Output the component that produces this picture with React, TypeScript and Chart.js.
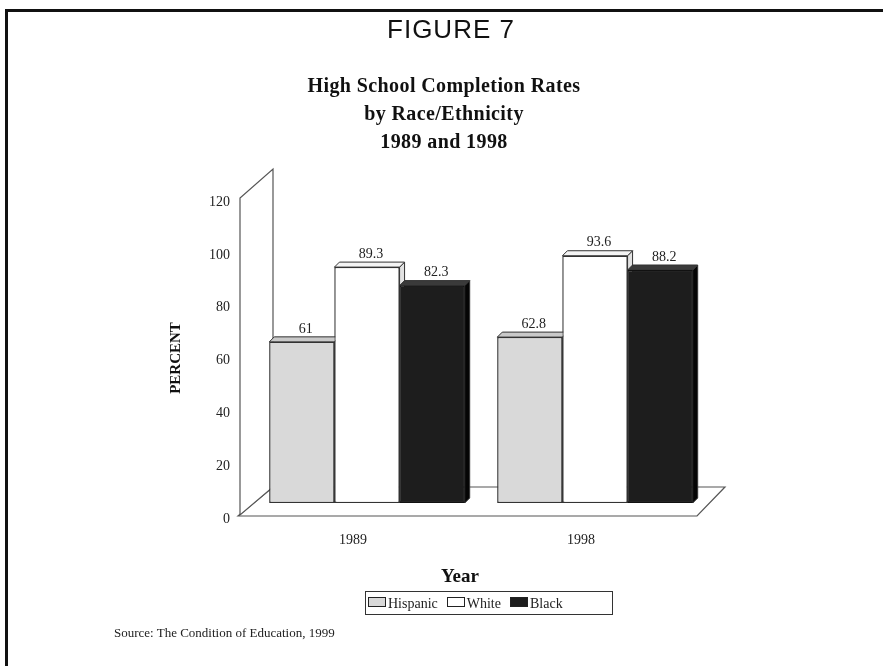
import React, { useEffect, useRef } from 'react';
import { Chart, registerables } from 'chart.js';

Chart.register(...registerables);

const years = ['1989', '1998'];
const seriesNames = ['Hispanic', 'White', 'Black'];
const hispanic = [61, 62.8];
const white = [89.3, 93.6];
const black = [82.3, 88.2];
const yMin = 0;
const yMax = 120;
const yStep = 20;

const titleLines = ['High School Completion Rates', 'by Race/Ethnicity', '1989 and 1998'];
const figureLabel = 'FIGURE 7';
const yTitle = 'PERCENT';
const xTitle = 'Year';
const sourceText = 'Source: The Condition of Education, 1999';

const fills = ['#d9d9d9', '#ffffff', '#1d1d1d'];
const borders = ['#333333', '#333333', '#111111'];
const sides = ['#a9a9a9', '#e2e2e2', '#050505'];
const caps = ['#c9c9c9', '#f4f4f4', '#3a3a3a'];

const SERIF = '"Liberation Serif", "Times New Roman", serif';

const threeD = {
  id: 'threeD',
  beforeDatasetsDraw(chart: any) {
    const { ctx, chartArea, scales } = chart;
    const { left, right } = chartArea;
    const y = scales.y;
    const base = y.getPixelForValue(0);
    const top = y.getPixelForValue(yMax);
    ctx.save();
    ctx.lineWidth = 1.2;
    ctx.strokeStyle = '#555';
    ctx.fillStyle = '#fff';
    // floor
    ctx.beginPath();
    ctx.moveTo(left - 15, base + 13);
    ctx.lineTo(right - 12, base + 13);
    ctx.lineTo(right + 16, base - 16);
    ctx.lineTo(left + 20, base - 16);
    ctx.closePath();
    ctx.fill();
    ctx.stroke();
    // side wall
    ctx.beginPath();
    ctx.moveTo(left - 13, base + 12);
    ctx.lineTo(left - 13, top + 12);
    ctx.lineTo(left + 20, top - 17);
    ctx.lineTo(left + 20, base - 16);
    ctx.closePath();
    ctx.fill();
    ctx.stroke();
    ctx.restore();
  },
  afterDatasetsDraw(chart: any) {
    const { ctx } = chart;
    const d = 5;
    const n = chart.data.labels.length;
    for (let j = 0; j < n; j++) {
      for (let i = 0; i < chart.data.datasets.length; i++) {
        const el = chart.getDatasetMeta(i).data[j];
        if (!el) continue;
        const p = el.getProps(['x', 'y', 'base', 'width'], true);
        const x0 = p.x - p.width / 2;
        const x1 = p.x + p.width / 2;
        const t = p.y;
        const b = p.base;
        ctx.save();
        ctx.lineWidth = 1;
        ctx.strokeStyle = '#333';
        // side
        ctx.beginPath();
        ctx.moveTo(x1, t);
        ctx.lineTo(x1 + d, t - d);
        ctx.lineTo(x1 + d, b - d);
        ctx.lineTo(x1, b);
        ctx.closePath();
        ctx.fillStyle = sides[i];
        ctx.fill();
        ctx.stroke();
        // cap
        ctx.beginPath();
        ctx.moveTo(x0, t);
        ctx.lineTo(x0 + d, t - d);
        ctx.lineTo(x1 + d, t - d);
        ctx.lineTo(x1, t);
        ctx.closePath();
        ctx.fillStyle = caps[i];
        ctx.fill();
        ctx.stroke();
        ctx.restore();
        el.draw(ctx);
      }
    }
    // value labels
    ctx.save();
    ctx.font = '14px ' + SERIF;
    ctx.fillStyle = '#222';
    ctx.textAlign = 'center';
    ctx.textBaseline = 'middle';
    chart.data.datasets.forEach((ds: any, i: number) => {
      chart.getDatasetMeta(i).data.forEach((el: any, j: number) => {
        const p = el.getProps(['x', 'y'], true);
        ctx.fillText(String(ds.data[j]), p.x + 4, p.y - 13);
      });
    });
    ctx.restore();
  },
  afterDraw(chart: any) {
    const { ctx } = chart;
    ctx.save();
    ctx.translate(176, 358);
    ctx.rotate(-Math.PI / 2);
    ctx.font = 'bold 15px ' + SERIF;
    ctx.fillStyle = '#111';
    ctx.textAlign = 'center';
    ctx.textBaseline = 'middle';
    ctx.fillText(yTitle, 0, 0);
    ctx.restore();
  },
};

export default function App() {
  const ref = useRef<HTMLCanvasElement | null>(null);

  useEffect(() => {
    if (!ref.current) return;
    const data = [hispanic, white, black];
    const chart = new Chart(ref.current, {
      type: 'bar',
      data: {
        labels: years,
        datasets: seriesNames.map((name, i) => ({
          label: name,
          data: data[i],
          backgroundColor: fills[i],
          borderColor: borders[i],
          borderWidth: 1.2,
          borderSkipped: false,
          categoryPercentage: 0.857,
          barPercentage: 1,
        })),
      },
      options: {
        responsive: false,
        animation: false,
        devicePixelRatio: 1,
        layout: { padding: { left: 160, right: 174, top: 186, bottom: 113 } },
        plugins: {
          legend: { display: false },
          tooltip: { enabled: false },
          title: { display: false },
        },
        scales: {
          x: {
            grid: { display: false, drawTicks: false },
            border: { display: false },
            ticks: {
              padding: 29,
              labelOffset: -14,
              color: '#222',
              font: { family: SERIF, size: 14 },
            },
            afterFit: (s: any) => {
              s.height = 50;
            },
          },
          y: {
            min: yMin,
            max: yMax,
            grid: { display: false, drawTicks: false },
            border: { display: false },
            ticks: {
              stepSize: yStep,
              padding: 23,
              labelOffset: 16,
              color: '#222',
              font: { family: SERIF, size: 14 },
            },
            afterFit: (s: any) => {
              s.width = 93;
            },
          },
        },
      },
      plugins: [threeD],
    });
    return () => chart.destroy();
  }, []);

  const center = (cx: number, cy: number, lh: number): React.CSSProperties => ({
    position: 'absolute',
    left: cx - 300,
    width: 600,
    top: cy - lh / 2,
    height: lh,
    lineHeight: lh + 'px',
    textAlign: 'center',
    whiteSpace: 'nowrap',
  });

  const swatch = (bg: string): React.CSSProperties => ({
    display: 'inline-block',
    width: 16,
    height: 8,
    background: bg,
    border: '1.2px solid #222',
    marginRight: 2,
    verticalAlign: 'middle',
    position: 'relative',
    top: -3,
  });

  return (
    <div
      style={{
        position: 'absolute',
        left: 0,
        top: 0,
        width: 883,
        height: 666,
        overflow: 'hidden',
        background: '#fff',
      }}
    >
      <div
        style={{
          position: 'absolute',
          left: 5,
          top: 9,
          width: 900,
          height: 700,
          borderTop: '3px solid #111',
          borderLeft: '3px solid #111',
        }}
      />
      <canvas ref={ref} width={883} height={666} style={{ position: 'absolute', left: 0, top: 0 }} />
      <div
        style={{
          ...center(451, 29, 30),
          fontFamily: '"Liberation Sans", Arial, sans-serif',
          fontSize: 26,
          letterSpacing: 1,
          color: '#111',
        }}
      >
        {figureLabel}
      </div>
      {titleLines.map((t, i) => (
        <div
          key={i}
          style={{
            ...center(444, 85 + i * 28, 26),
            fontFamily: SERIF,
            fontWeight: 'bold',
            fontSize: 20,
            letterSpacing: 0.4,
            color: '#111',
          }}
        >
          {t}
        </div>
      ))}
      <div
        style={{
          ...center(460, 576, 24),
          fontFamily: SERIF,
          fontWeight: 'bold',
          fontSize: 19,
          color: '#111',
        }}
      >
        {xTitle}
      </div>
      <div
        style={{
          position: 'absolute',
          left: 365,
          top: 591,
          width: 244,
          height: 22,
          border: '1.5px solid #333',
          fontFamily: SERIF,
          fontSize: 14,
          lineHeight: '24px',
          color: '#222',
          whiteSpace: 'nowrap',
          paddingLeft: 2,
          boxSizing: 'content-box',
        }}
      >
        {seriesNames.map((n, i) => (
          <span key={n} style={{ marginRight: i < 2 ? 9 : 0 }}>
            <span style={swatch(fills[i])} />
            {n}
          </span>
        ))}
      </div>
      <div
        style={{
          position: 'absolute',
          left: 114,
          top: 624,
          height: 18,
          lineHeight: '18px',
          fontFamily: SERIF,
          fontSize: 13,
          color: '#222',
          whiteSpace: 'nowrap',
        }}
      >
        {sourceText}
      </div>
    </div>
  );
}
